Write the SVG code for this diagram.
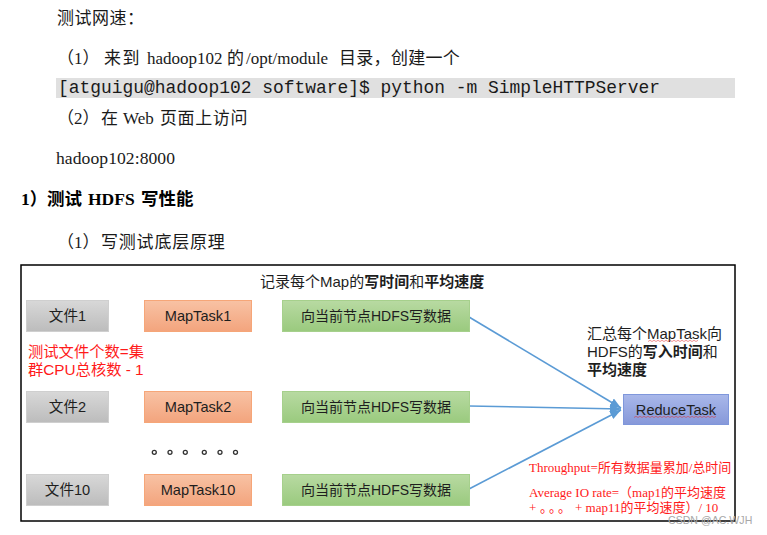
<svg xmlns="http://www.w3.org/2000/svg" width="767" height="535" viewBox="0 0 767 535">
<style>
.doc{font-family:"Liberation Serif","Noto Sans CJK SC",serif;fill:#1a1a1a;font-size:17px}
.mono{font-family:"Liberation Mono","DejaVu Sans Mono",monospace;font-size:17.8px;fill:#1a1a1a}
.dg{font-family:"Liberation Sans","Noto Sans CJK SC",sans-serif;fill:#1e1e1e}
.lbl{font-size:14.6px;text-anchor:middle}
.lblg{font-size:14px;text-anchor:middle}
.b{font-weight:bold}
.red{font-family:"Liberation Sans","Noto Sans CJK SC",sans-serif;fill:#ff1a1a;font-size:15.3px}
.reds{font-family:"Liberation Serif","Noto Sans CJK SC",serif;fill:#ff1a1a;font-size:13px}
.file{fill:url(#gGray);stroke:#cfcfcf;stroke-width:1}
.map{fill:url(#gOrange);stroke:#f6a678;stroke-width:1}
.hdfs{fill:url(#gGreen);stroke:#a6d08c;stroke-width:1}
.red-box{fill:url(#gBlue);stroke:#7f97db;stroke-width:1}
.conn{stroke:#5b9bd5;stroke-width:1.6;fill:none;marker-end:url(#arr)}
.dot{fill:#fff;stroke:#333;stroke-width:1.3}
.wavy{fill:none;stroke:#e03030;stroke-width:0.7;opacity:0.75}
</style>
<defs>
<linearGradient id="gGray" x1="0" y1="0" x2="0" y2="1"><stop offset="0" stop-color="#d8d8d8"/><stop offset="1" stop-color="#bcbcbc"/></linearGradient>
<linearGradient id="gOrange" x1="0" y1="0" x2="0" y2="1"><stop offset="0" stop-color="#f8c2a4"/><stop offset="1" stop-color="#f3a47d"/></linearGradient>
<linearGradient id="gGreen" x1="0" y1="0" x2="0" y2="1"><stop offset="0" stop-color="#b8daa2"/><stop offset="1" stop-color="#9aca7e"/></linearGradient>
<linearGradient id="gBlue" x1="0" y1="0" x2="0" y2="1"><stop offset="0" stop-color="#a9b8ea"/><stop offset="1" stop-color="#8698d9"/></linearGradient>
<marker id="arr" markerUnits="userSpaceOnUse" markerWidth="12" markerHeight="10" refX="11" refY="4.5" orient="auto"><path d="M0,0 L11,4.5 L0,9 z" fill="#5b9bd5"/></marker>
</defs>
<rect width="767" height="535" fill="#fff"/>

<g id="document-text">
<text class="doc" x="57" y="24" style="letter-spacing:0.5px">测试网速：</text>
<text class="doc" y="64"><tspan x="57">（1）</tspan><tspan x="104" style="letter-spacing:1.5px">来到</tspan><tspan x="147">hadoop102</tspan><tspan x="227">的</tspan><tspan x="246">/opt/module</tspan><tspan x="339" style="letter-spacing:0.3px">目录，创建一个</tspan></text>
<rect x="56" y="78" width="679" height="20" fill="#e0e0e0"/>
<text class="mono" x="58" y="93" textLength="602" lengthAdjust="spacingAndGlyphs">[atguigu@hadoop102 software]$ python -m SimpleHTTPServer</text>
<text class="doc" y="124"><tspan x="57">（2）</tspan><tspan x="101">在</tspan><tspan x="123">Web</tspan><tspan x="160" style="letter-spacing:0.6px">页面上访问</tspan></text>
<text class="doc" x="56" y="164" style="font-size:17.6px" textLength="119">hadoop102:8000</text>
<text class="doc b" y="205" style="font-size:17.5px;fill:#000"><tspan x="21">1）</tspan><tspan x="47">测试</tspan><tspan x="88">HDFS</tspan><tspan x="141">写性能</tspan></text>
<text class="doc" y="248"><tspan x="57">（1）</tspan><tspan x="101" style="letter-spacing:0.8px">写测试底层原理</tspan></text>
</g>

<rect id="frame" x="21" y="265" width="714" height="256" fill="none" stroke="#000" stroke-width="1.5"/>

<text id="title" class="dg" x="260" y="287" style="font-size:15px">记录每个Map的<tspan class="b">写时间</tspan>和<tspan class="b">平均速度</tspan></text>

<g id="connectors">
<line class="conn" x1="469" y1="317" x2="621" y2="408"/>
<line class="conn" x1="469" y1="406" x2="621" y2="409"/>
<line class="conn" x1="469" y1="489" x2="621" y2="410"/>
</g>

<g id="file1"><rect class="file" x="26.5" y="300.5" width="82" height="31"/><text class="dg lbl" x="67.5" y="321">文件1</text></g>
<g id="maptask1"><rect class="map" x="144.5" y="300.5" width="107" height="31"/><text class="dg lbl" x="198" y="321">MapTask1</text></g>
<g id="write1"><rect class="hdfs" x="282.5" y="300.5" width="187" height="31"/><text class="dg lblg" x="376" y="321">向当前节点HDFS写数据</text></g>

<g id="file2"><rect class="file" x="26.5" y="391.5" width="82" height="31"/><text class="dg lbl" x="67.5" y="412">文件2</text></g>
<g id="maptask2"><rect class="map" x="144.5" y="391.5" width="107" height="31"/><text class="dg lbl" x="198" y="412">MapTask2</text></g>
<g id="write2"><rect class="hdfs" x="282.5" y="391.5" width="187" height="31"/><text class="dg lblg" x="376" y="412">向当前节点HDFS写数据</text></g>

<g id="file10"><rect class="file" x="26.5" y="474.5" width="82" height="31"/><text class="dg lbl" x="67.5" y="495">文件10</text></g>
<g id="maptask10"><rect class="map" x="144.5" y="474.5" width="107" height="31"/><text class="dg lbl" x="198" y="495">MapTask10</text></g>
<g id="write10"><rect class="hdfs" x="282.5" y="474.5" width="187" height="31"/><text class="dg lblg" x="376" y="495">向当前节点HDFS写数据</text></g>

<g id="reducetask"><rect class="red-box" x="623.5" y="394.5" width="105" height="30"/><text class="dg lbl" x="676" y="415">ReduceTask</text>
<path class="wavy" d="M634,417.5 l2,-1.2 l2,1.2 l2,-1.2 l2,1.2 l2,-1.2 l2,1.2 l2,-1.2 l2,1.2 l2,-1.2 l2,1.2 l2,-1.2 l2,1.2 l2,-1.2 l2,1.2 l2,-1.2 l2,1.2 l2,-1.2 l2,1.2 l2,-1.2 l2,1.2 l2,-1.2 l2,1.2 l2,-1.2 l2,1.2 l2,-1.2 l2,1.2 l2,-1.2 l2,1.2 l2,-1.2 l2,1.2 l2,-1.2 l2,1.2 l2,-1.2 l2,1.2 l2,-1.2 l2,1.2 l2,-1.2 l2,1.2 l2,-1.2 l2,1.2 l2,-1.2"/></g>

<g id="ellipsis">
<circle class="dot" cx="154.3" cy="452.3" r="2"/>
<circle class="dot" cx="170" cy="452.3" r="2"/>
<circle class="dot" cx="185.3" cy="452.3" r="2"/>
<circle class="dot" cx="204.3" cy="452.3" r="2"/>
<circle class="dot" cx="220" cy="452.3" r="2"/>
<circle class="dot" cx="235.5" cy="452.3" r="2"/>
</g>

<g id="note-files">
<text class="red" x="28" y="357">测试文件个数=集</text>
<text class="red" x="28" y="375">群CPU总核数 - 1</text>
</g>

<g id="note-reduce">
<text class="dg" x="587" y="339" style="font-size:15px">汇总每个MapTask向</text>
<path class="wavy" d="M648,341.5 l2,-1.2 l2,1.2 l2,-1.2 l2,1.2 l2,-1.2 l2,1.2 l2,-1.2 l2,1.2 l2,-1.2 l2,1.2 l2,-1.2 l2,1.2 l2,-1.2 l2,1.2 l2,-1.2 l2,1.2 l2,-1.2 l2,1.2 l2,-1.2 l2,1.2 l2,-1.2 l2,1.2 l2,-1.2 l2,1.2 l2,-1.2"/>
<text class="dg" x="587" y="357" style="font-size:15px">HDFS的<tspan class="b">写入时间</tspan>和</text>
<text class="dg b" x="587" y="375" style="font-size:15px">平均速度</text>
</g>

<g id="note-formula">
<text class="reds" x="529" y="472">Throughput=所有数据量累加/总时间</text>
<text class="reds" x="529" y="497">Average IO rate=（map1的平均速度</text>
<text class="reds" y="512"><tspan x="529">+ </tspan><tspan x="540 549 558">。。。</tspan><tspan x="575">+ map11的平均速度）/ 10</tspan></text>
</g>

<text id="watermark" x="668" y="524" style="font-family:'Liberation Sans',sans-serif;font-size:10.6px;fill:#a8a8a8">CSDN @AC.WJH</text>
</svg>
